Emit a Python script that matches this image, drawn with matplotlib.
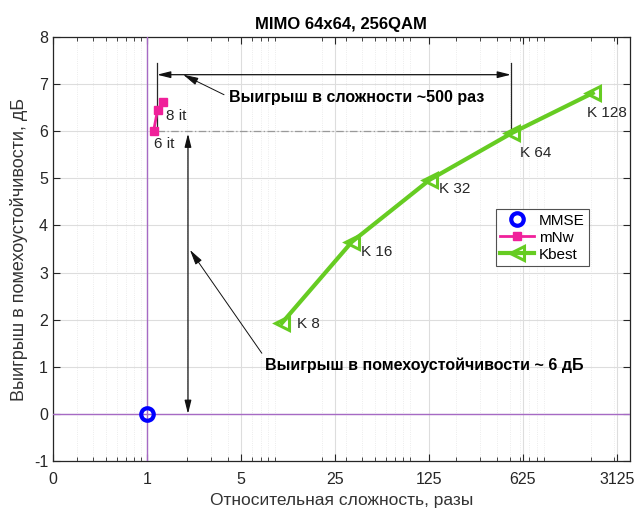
import numpy as np
import matplotlib
matplotlib.use("Agg")
import matplotlib.pyplot as plt
from matplotlib.ticker import FixedLocator, LogLocator, NullFormatter

plt.rcParams["font.family"] = ["Liberation Sans", "DejaVu Sans"]
plt.rcParams["axes.unicode_minus"] = False

# ── Data ────────────────────────────────────────────────────────────────
mmse_x = [1.0]
mmse_y = [0.0]

mnw_x = [1.12, 1.20, 1.32]
mnw_y = [6.00, 6.45, 6.62]
mnw_labels = ["6 it", "8 it"]

kbest_x = [10.1, 33.4, 127.0, 517.0, 2070.0]
kbest_y = [1.93, 3.65, 4.97, 5.96, 6.81]
kbest_labels = ["K 8", "K 16", "K 32", "K 64", "K 128"]
# label offsets in points (dx, dy)
kbest_offsets = [(11, -1), (7, -7), (7, -7), (6, -14), (-4, -14)]

xticks = [0.2, 1, 5, 25, 125, 625, 3125]
xtick_labels = ["0", "1", "5", "25", "125", "625", "3125"]
yticks = list(range(-1, 9))

# annotation anchors (data coords)
gain_x_left, gain_x_right = 1.19, 510.0
gain_y_arrow = 7.2
snr_x = 2.02

GREEN = "#66cc22"
MAGENTA = "#f0209a"
PURPLE = "#a66ac4"
DARK = "#262626"

fig = plt.figure(figsize=(6.38, 5.11), dpi=100)
ax = fig.add_axes([0.083, 0.0978, 0.904, 0.8298])

ax.set_xscale("log")
ax.set_xlim(0.2, 3900)
ax.set_ylim(-1, 8)

# axes-through-origin style lines
ax.axvline(1, color=PURPLE, lw=1.0, zorder=3)
ax.axhline(0, color=PURPLE, lw=1.0, zorder=3)

# dash-dot reference line at 6 dB
ax.plot([gain_x_left, gain_x_right], [6, 6], color="#999999", lw=0.9,
        ls=(0, (6, 2, 1, 2)), zorder=3)

# series
ax.plot(mmse_x, mmse_y, "o", color="#0000ff", mfc="none", mew=3, ms=9,
        label="MMSE", zorder=6)
ax.plot(mnw_x, mnw_y, "-s", color=MAGENTA, lw=2, ms=6, mfc=MAGENTA,
        label="mNw", zorder=6)
ax.plot(kbest_x, kbest_y, "-<", color=GREEN, lw=3, ms=9.5, mfc="none",
        mew=2.2, label="Kbest", zorder=5)

# point labels
ax.annotate(mnw_labels[0], (mnw_x[0], mnw_y[0]), xytext=(0, -9),
            textcoords="offset points", fontsize=11, va="center", ha="left",
            color=DARK)
ax.annotate(mnw_labels[1], (mnw_x[-1], mnw_y[-1]), xytext=(2, -10),
            textcoords="offset points", fontsize=11, va="center", ha="left",
            color=DARK)
for x, y, s, off in zip(kbest_x, kbest_y, kbest_labels, kbest_offsets):
    ax.annotate(s, (x, y), xytext=off, textcoords="offset points",
                fontsize=11, va="center", ha="left", color=DARK)

# complexity gain bracket
for xv in (gain_x_left, gain_x_right):
    ax.plot([xv, xv], [5.97, 7.45], color=DARK, lw=0.9, zorder=4)
ax.annotate("", xy=(gain_x_left, gain_y_arrow), xytext=(gain_x_right, gain_y_arrow),
            arrowprops=dict(arrowstyle="<|-|>,head_length=0.8,head_width=0.2",
                            color="#111111", lw=0.9, shrinkA=0, shrinkB=0))
ax.annotate("Выигрыш в сложности ~500 раз", xy=(1.86, 7.2), xytext=(4.1, 6.72),
            fontsize=11.5, fontweight="bold", va="center", ha="left",
            arrowprops=dict(arrowstyle="-|>,head_length=0.8,head_width=0.2",
                            color="#111111", lw=0.7, shrinkA=2, shrinkB=0,
                            relpos=(0, 0.5)))

# noise immunity gain arrow
ax.annotate("", xy=(snr_x, 0.0), xytext=(snr_x, 5.95),
            arrowprops=dict(arrowstyle="<|-|>,head_length=0.8,head_width=0.2",
                            color="#111111", lw=0.9, shrinkA=0, shrinkB=0))
ax.annotate("Выигрыш в помехоустойчивости ~ 6 дБ", xy=(2.09, 3.48),
            xytext=(7.5, 1.04), fontsize=11.5, fontweight="bold", va="center",
            ha="left",
            arrowprops=dict(arrowstyle="-|>,head_length=0.8,head_width=0.2",
                            color="#111111", lw=0.7, shrinkA=1, shrinkB=0,
                            relpos=(0, 1)))

# ticks & grid
ax.xaxis.set_major_locator(FixedLocator(xticks))
ax.set_xticklabels(xtick_labels)
ax.xaxis.set_minor_locator(LogLocator(base=10, subs=np.arange(2, 10)))
ax.xaxis.set_minor_formatter(NullFormatter())
ax.set_yticks(yticks)
ax.tick_params(which="both", direction="in", top=True, right=True,
               colors=DARK, labelsize=11.5)
ax.tick_params(which="major", length=5)
ax.tick_params(which="minor", length=3)
ax.tick_params(axis="x", pad=8)
ax.grid(True, which="major", color="#dddddd", lw=0.8)
ax.grid(True, which="minor", axis="x", color="#e6e6e6", lw=0.6, ls=":")
for sp in ax.spines.values():
    sp.set_color(DARK)
    sp.set_linewidth(0.9)

ax.set_title("MIMO 64x64, 256QAM", fontsize=12, fontweight="bold", pad=6)
ax.set_xlabel("Относительная сложность, разы", fontsize=12.5, color="#333333")
ax.set_ylabel("Выигрыш в помехоустойчивости, дБ", fontsize=13, color="#333333")

leg = ax.legend(loc="upper left", bbox_to_anchor=(0.768, 0.594), fontsize=11,
                frameon=True, fancybox=False, edgecolor=DARK, borderaxespad=0,
                handlelength=2.2, borderpad=0.3, labelspacing=0.2,
                handletextpad=0.3)
leg.get_frame().set_linewidth(0.8)

fig.savefig("out.png", dpi=100)
